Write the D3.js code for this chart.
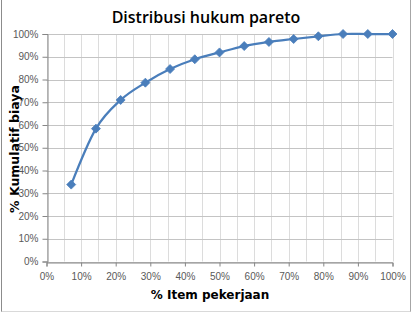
<!DOCTYPE html>
<html>
  <head>
    <meta charset="UTF-8">
    <title>Distribusi hukum pareto</title>
    <style>
      body { margin: 0; background: #fff; }
      svg { display: block; }
      .tick text { font-family: "Liberation Sans", Arial, sans-serif; font-size: 10px; fill: #595959; }
    </style>
  </head>
  <body>
    <svg></svg>
    <script src="https://d3js.org/d3.v7.min.js"></script>
    <script>

// data (percent)
var itemPct = [7.14, 14.29, 21.43, 28.57, 35.71, 42.86, 50, 57.14, 64.29, 71.43, 78.57, 85.71, 92.86, 100];
var costPct = [33.8, 58.4, 71, 78.6, 84.6, 88.9, 91.9, 94.7, 96.5, 97.8, 99, 100, 100, 100];
var xTicks = [0, 10, 20, 30, 40, 50, 60, 70, 80, 90, 100];
var yTicks = [0, 10, 20, 30, 40, 50, 60, 70, 80, 90, 100];
var xGrid = [0, 5, 10, 15, 20, 25, 30, 35, 40, 45, 50, 55, 60, 65, 70, 75, 80, 85, 90, 95, 100];

var config = {
  width: 416,
  height: 318,
  plot: { left: 46.5, right: 392.5, top: 34, bottom: 261.5 }
};

var svg = d3.select("svg")
  .attr("width", config.width)
  .attr("height", config.height);

// chart area border
svg.append("line").attr("x1", 1.5).attr("x2", 1.5).attr("y1", 0).attr("y2", 312)
  .attr("stroke", "#8c8c8c");
svg.append("line").attr("x1", 410.5).attr("x2", 410.5).attr("y1", 0).attr("y2", 312)
  .attr("stroke", "#a6a6a6");
svg.append("line").attr("x1", 1.5).attr("x2", 410.5).attr("y1", 311.5).attr("y2", 311.5)
  .attr("stroke", "#d9d9d9");

var p = config.plot;
var x = d3.scaleLinear().domain([0, 100]).range([p.left, p.right]);
var y = d3.scaleLinear().domain([0, 100]).range([p.bottom, p.top]);

// vertical gridlines (every 5%)
svg.append("g").selectAll("line")
  .data(xGrid)
  .enter().append("line")
    .attr("x1", function(d){ return Math.round(x(d)) + 0.5; })
    .attr("x2", function(d){ return Math.round(x(d)) + 0.5; })
    .attr("y1", p.top)
    .attr("y2", p.bottom)
    .attr("stroke", "#dcdcdc");

// horizontal gridlines (every 10%)
svg.append("g").selectAll("line")
  .data(yTicks)
  .enter().append("line")
    .attr("x1", p.left)
    .attr("x2", p.right)
    .attr("y1", function(d){ return Math.round(y(d)) + 0.5; })
    .attr("y2", function(d){ return Math.round(y(d)) + 0.5; })
    .attr("stroke", "#c4c4c4");

// axes
var xAxis = svg.append("g")
  .attr("transform", "translate(0," + (Math.round(y(0)) + 0.5) + ")")
  .call(d3.axisBottom(x).tickValues(xTicks).tickSize(4).tickPadding(6)
    .tickFormat(function(d){ return d + "%"; }));
var yAxis = svg.append("g")
  .attr("transform", "translate(" + (Math.round(x(0)) + 0.5) + ",0)")
  .call(d3.axisLeft(y).tickValues(yTicks).tickSize(5).tickPadding(4)
    .tickFormat(function(d){ return d + "%"; }));
[xAxis, yAxis].forEach(function(a){
  a.select(".domain").attr("stroke", "#868686");
  a.selectAll(".tick line").attr("stroke", "#868686");
});

// smooth line
var line = d3.line()
  .x(function(d, i){ return x(itemPct[i]); })
  .y(function(d){ return y(d); })
  .curve(d3.curveCatmullRom.alpha(0));

svg.append("path")
  .datum(costPct)
  .attr("d", line)
  .attr("fill", "none")
  .attr("stroke", "#4a7ebb")
  .attr("stroke-width", 2.25);

// diamond markers
svg.append("g").selectAll("path")
  .data(costPct)
  .enter().append("path")
    .attr("transform", function(d, i){ return "translate(" + x(itemPct[i]) + "," + y(d) + ")"; })
    .attr("d", "M0,-4.5L4.5,0L0,4.5L-4.5,0Z")
    .attr("fill", "#4a7ebb")
    .attr("stroke", "#4a7ebb")
    .attr("stroke-width", 0.8);

// titles
svg.append("text")
  .attr("x", 206)
  .attr("y", 23)
  .attr("text-anchor", "middle")
  .style("font-family", "'Open Sans', sans-serif")
  .style("font-weight", 600)
  .style("font-size", "16px")
  .attr("fill", "#000")
  .text("Distribusi hukum pareto");

svg.append("text")
  .attr("x", 210)
  .attr("y", 299)
  .attr("text-anchor", "middle")
  .style("font-family", "'DejaVu Sans', sans-serif")
  .style("font-weight", "bold")
  .style("font-size", "12px")
  .attr("fill", "#000")
  .text("% Item pekerjaan");

svg.append("text")
  .attr("transform", "translate(19,149) rotate(-90)")
  .attr("text-anchor", "middle")
  .style("font-family", "'DejaVu Sans', sans-serif")
  .style("font-weight", "bold")
  .style("font-size", "12.5px")
  .attr("fill", "#000")
  .text("% Kumulatif biaya");

    </script>
  </body>
</html>
